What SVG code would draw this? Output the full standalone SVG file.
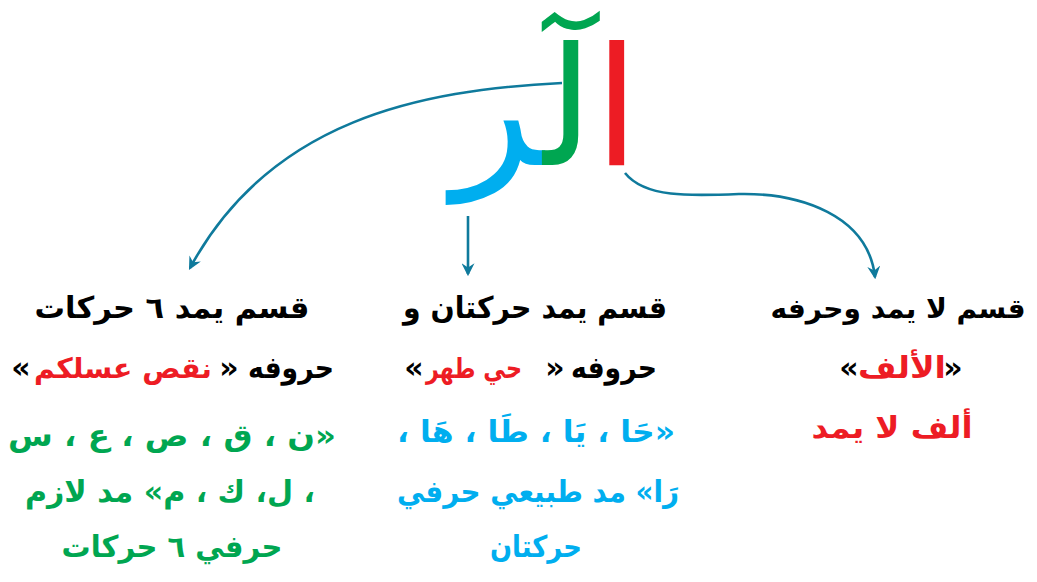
<svg xmlns="http://www.w3.org/2000/svg" width="1037" height="582" viewBox="0 0 1037 582">
<style>
.t{font-family:"DejaVu Sans",sans-serif;font-weight:bold;font-size:30px;text-anchor:middle;direction:rtl}
.s{font-size:28px}
.q{font-family:"DejaVu Sans",sans-serif;font-weight:bold;font-size:30px;text-anchor:middle;direction:ltr}
.k{fill:#000}.r{fill:#ed1c24}.g{fill:#00a651}.b{fill:#00aeef}
.big{font-family:"DejaVu Sans",sans-serif;font-size:165px;direction:rtl}
.c{fill:none;stroke:#0f7a9c;stroke-width:2.6}
</style>
<defs>
<marker id="ah" viewBox="0 0 12 12" refX="10" refY="6" markerWidth="13" markerHeight="13" markerUnits="userSpaceOnUse" orient="auto">
<path d="M0,0 L12,6 L0,12 L4,6 Z" fill="#0f7a9c"/>
</marker>
</defs>
<rect width="1037" height="582" fill="#fff"/>
<g id="title">
<text class="big" x="546" y="165" text-anchor="middle"><tspan class="r">ا</tspan><tspan class="g">لٓ</tspan><tspan class="b">ر</tspan></text>
</g>
<g id="connectors">
<path class="c" d="M562,83 C420,90 270,120 190,268" marker-end="url(#ah)"/>
<path class="c" d="M468,216 L468,274" marker-end="url(#ah)"/>
<path class="c" d="M625,173 C645,198 690,196 740,194 C800,193 868,215 875,277" marker-end="url(#ah)"/>
</g>
<g id="left">
<text class="t k" x="172" y="318" textLength="275" lengthAdjust="spacingAndGlyphs">قسم يمد ٦ حركات</text>
<text class="t k" x="291" y="378" textLength="86" lengthAdjust="spacingAndGlyphs">حروفه</text>
<text class="q k" x="229" y="378">»</text>
<text class="t s r" x="123" y="378" textLength="178" lengthAdjust="spacingAndGlyphs">نقص عسلكم</text>
<text class="q k" x="21" y="378">«</text>
<text class="t g" x="172" y="446" textLength="328" lengthAdjust="spacingAndGlyphs">«ن ، ق ، ص ، ع ، س</text>
<text class="t g" x="170" y="502" textLength="290" lengthAdjust="spacingAndGlyphs">، ل، ك ، م» مد لازم</text>
<text class="t g" x="172" y="557" textLength="221" lengthAdjust="spacingAndGlyphs">حرفي ٦ حركات</text>
</g>
<g id="middle">
<text class="t k" x="535" y="318" textLength="264" lengthAdjust="spacingAndGlyphs">قسم يمد حركتان و</text>
<text class="t k" x="614" y="378" textLength="86" lengthAdjust="spacingAndGlyphs">حروفه</text>
<text class="q k" x="555" y="378">»</text>
<text class="t s r" x="474" y="378" textLength="96" lengthAdjust="spacingAndGlyphs">حي طهر</text>
<text class="q k" x="414" y="378">«</text>
<text class="t b" x="536" y="442" textLength="278" lengthAdjust="spacingAndGlyphs">«حَا ، يَا ، طَا ، هَا ،</text>
<text class="t b" x="538" y="502" textLength="282" lengthAdjust="spacingAndGlyphs">رَا» مد طبيعي حرفي</text>
<text class="t b" x="536" y="557" textLength="92" lengthAdjust="spacingAndGlyphs">حركتان</text>
</g>
<g id="right">
<text class="t k" x="898" y="318" style="font-size:27.5px" textLength="255" lengthAdjust="spacingAndGlyphs">قسم لا يمد وحرفه</text>
<text class="q k" x="953" y="378">»</text>
<text class="t r" x="902" y="378" textLength="88" lengthAdjust="spacingAndGlyphs">الألف</text>
<text class="q k" x="849" y="378">«</text>
<text class="t r" x="892" y="438" textLength="161" lengthAdjust="spacingAndGlyphs">ألف لا يمد</text>
</g>
</svg>
